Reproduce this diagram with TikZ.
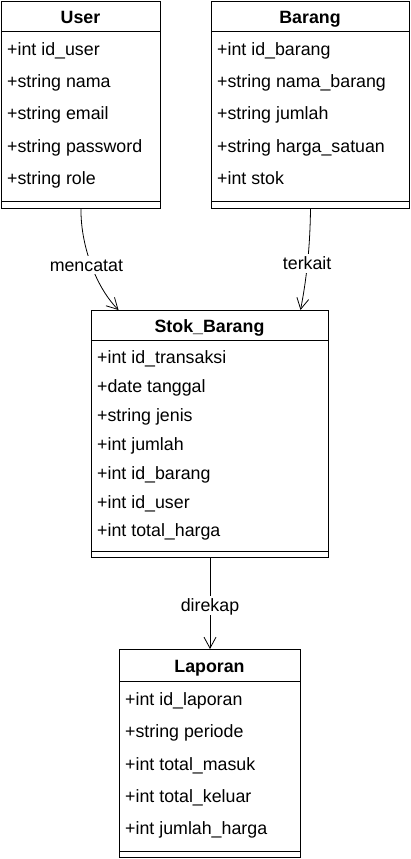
\documentclass[tikz,border=0pt]{standalone}
\usepackage{fontspec}
\setmainfont{Liberation Sans}
\usetikzlibrary{arrows.meta}
\begin{document}
\begin{tikzpicture}[x=1pt,y=-1pt,
  box/.style={draw,line width=1pt,fill=white,inner sep=0pt,anchor=north west},
  attr/.style={anchor=west,inner sep=0pt,font=\fontsize{17.8}{20}\selectfont,text height=14pt,text depth=1.5pt},
  ttl/.style={inner sep=0pt,font=\bfseries\fontsize{17.8}{20}\selectfont,text height=14pt,text depth=1.5pt},
  lbl/.style={fill=white,inner sep=1.5pt,font=\fontsize{17.8}{20}\selectfont,text height=14pt,text depth=1.5pt},
  sep/.style={line width=1pt},
  conn/.style={line width=0.8pt,-{Straight Barb[length=11pt,width=12pt,line width=0.8pt]}}
]
\useasboundingbox (0,0) rectangle (410,859);

% User
\node[box,minimum width=159pt,minimum height=207pt] (user) at (1,1) {};
\draw[sep] ([yshift=-31pt]user.north west) -- ([yshift=-31pt]user.north east);
\draw[sep] ([yshift=8pt]user.south west) -- ([yshift=8pt]user.south east);
\node[ttl] (userT) at (80.5,17) {User};
\node[attr] (u1) at (7,49) {+int id\_user};
\node[attr] (u2) at (7,81) {+string nama};
\node[attr] (u3) at (7,113) {+string email};
\node[attr] (u4) at (7,146) {+string password};
\node[attr] (u5) at (7,178) {+string role};

% Barang
\node[box,minimum width=198pt,minimum height=207pt] (barang) at (211,1) {};
\draw[sep] ([yshift=-31pt]barang.north west) -- ([yshift=-31pt]barang.north east);
\draw[sep] ([yshift=8pt]barang.south west) -- ([yshift=8pt]barang.south east);
\node[ttl] (barangT) at (310,17) {Barang};
\node[attr] (b1) at (217,49) {+int id\_barang};
\node[attr] (b2) at (217,81) {+string nama\_barang};
\node[attr] (b3) at (217,113) {+string jumlah};
\node[attr] (b4) at (217,146) {+string harga\_satuan};
\node[attr] (b5) at (217,178) {+int stok};

% Stok_Barang
\node[box,minimum width=237pt,minimum height=247pt] (stok) at (91,310) {};
\draw[sep] ([yshift=-30pt]stok.north west) -- ([yshift=-30pt]stok.north east);
\draw[sep] ([yshift=7pt]stok.south west) -- ([yshift=7pt]stok.south east);
\node[ttl] (stokT) at (209.5,326) {Stok\_Barang};
\node[attr] (s1) at (97,357) {+int id\_transaksi};
\node[attr] (s2) at (97,386) {+date tanggal};
\node[attr] (s3) at (97,415) {+string jenis};
\node[attr] (s4) at (97,444) {+int jumlah};
\node[attr] (s5) at (97,473) {+int id\_barang};
\node[attr] (s6) at (97,502) {+int id\_user};
\node[attr] (s7) at (97,530) {+int total\_harga};

% Laporan
\node[box,minimum width=181pt,minimum height=208pt] (laporan) at (119,649) {};
\draw[sep] ([yshift=-32pt]laporan.north west) -- ([yshift=-32pt]laporan.north east);
\draw[sep] ([yshift=7pt]laporan.south west) -- ([yshift=7pt]laporan.south east);
\node[ttl] (laporanT) at (209.5,666) {Laporan};
\node[attr] (l1) at (125,699) {+int id\_laporan};
\node[attr] (l2) at (125,731) {+string periode};
\node[attr] (l3) at (125,764) {+int total\_masuk};
\node[attr] (l4) at (125,796) {+int total\_keluar};
\node[attr] (l5) at (125,828) {+int jumlah\_harga};

% connectors
\draw[conn] (user.south) .. controls (80.5,242) and (94,285) .. ([xshift=-91.5pt]stok.north)
  node[lbl,pos=0.55,xshift=-6pt,yshift=3pt] (lm) {mencatat};
\draw[conn] (barang.south) .. controls (310,250) and (306,282) .. ([xshift=90.5pt]stok.north)
  node[lbl,pos=0.52,yshift=3pt] (lt) {terkait};
\draw[conn] (stok.south) -- (laporan.north) node[lbl,pos=0.52] (ld) {direkap};
\end{tikzpicture}
\end{document}
